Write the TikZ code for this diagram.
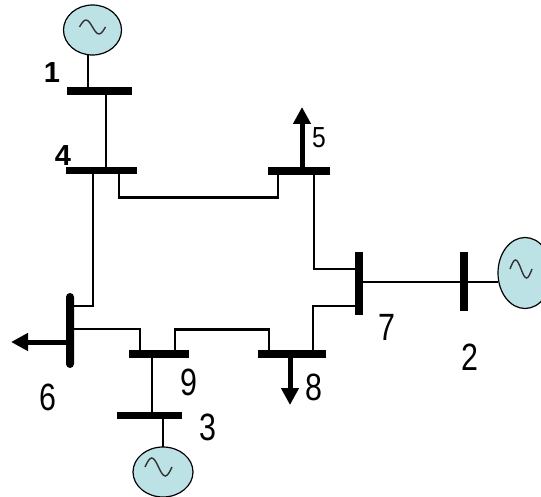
\documentclass[tikz,border=0pt]{standalone}
\usepackage{fontspec}
\setmainfont{Liberation Sans}
\usetikzlibrary{shapes.geometric,arrows.meta,calc}
\definecolor{genfill}{RGB}{188,226,230}
\begin{document}
\begin{tikzpicture}[x=1pt,y=-1pt,
  bus/.style={fill=black,inner sep=0pt,outer sep=0pt,minimum width=#1,minimum height=7.5pt},
  vbus/.style={fill=black,inner sep=0pt,outer sep=0pt,minimum width=8pt,minimum height=#1},
  gen/.style={ellipse,draw=black,line width=1.2pt,fill=genfill,inner sep=0pt,outer sep=0pt},
  conn/.style={line width=2.8pt},
  load/.style={line width=5pt,-{Triangle[length=17pt,width=17pt]}},
  wave/.style={line width=1.4pt,black!80},
  lbl/.style={font=\fontsize{38}{38}\selectfont,inner sep=0pt},
  slbl/.style={font=\fontsize{29}{29}\selectfont,inner sep=0pt},
  blbl/.style={font=\fontsize{29}{29}\selectfont\bfseries,inner sep=0pt}]
\useasboundingbox (0,0) rectangle (541,497);
\clip (0,0) rectangle (541,497);
\fill[white] (0,0) rectangle (541,497);

% buses
\node[bus=65pt] (b1) at (99.5,91) {};
\node[bus=71pt] (b4) at (101.5,170.5) {};
\node[bus=62pt] (b5) at (299,171) {};
\node[vbus=63pt] (b7) at (359,283.5) {};
\node[vbus=59pt] (b2) at (464,281.5) {};
\node[bus=68pt] (b8) at (292,354) {};
\node[bus=60pt] (b9) at (159,354) {};
\node[bus=65pt] (b3) at (149.5,415.5) {};
\node[fill=black,inner sep=0pt,outer sep=0pt,minimum width=8pt,minimum height=75pt,rounded corners=4pt] (b6) at (70,330.5) {};

% generators
\node[gen,minimum width=58pt,minimum height=50pt] (g1) at (92.5,30) {};
\node[gen,minimum width=54pt,minimum height=71pt] (g2) at (525,273) {};
\node[gen,minimum width=60pt,minimum height=50pt] (g3) at (163,472) {};

% load end points
\coordinate (l5) at (302,107);
\coordinate (l8) at (290,405);
\coordinate (l6) at (11,342);

% connectors
\draw[conn] ([xshift=-4.5pt]g1.south) -- ([xshift=-4.5pt]g1.south |- b1.north);
\draw[conn] ([xshift=6.5pt]b1.south) -- ([xshift=6.5pt]b1.south |- b4.north);
\draw[conn] ([xshift=17.5pt]b4.south) -- ++(0,23) -| ([xshift=-21pt]b5.south);
\draw[conn] ([xshift=-8.5pt]b4.south) |- ([yshift=24.5pt]b6.east);
\draw[conn] ([yshift=1.5pt]b6.east) -| ([xshift=-19pt]b9.north);
\draw[conn] ([xshift=16pt]b9.north) -- ++(0,-21) -| ([xshift=-23pt]b8.north);
\draw[conn] ([xshift=21pt]b8.north) |- ([yshift=-22.5pt]b7.west);
\draw[conn] ([xshift=15pt]b5.south) |- ([yshift=14.5pt]b7.west);
\draw[conn] ([yshift=1.5pt]b7.east) -- ([yshift=1.5pt]b7.east -| b2.west);
\draw[conn] ([yshift=-0.5pt]b2.east) -- ([yshift=-0.5pt]b2.east -| g2.west);
\draw[conn] ([xshift=-7pt]b9.south) -- ([xshift=-7pt]b9.south |- b3.north);
\draw[conn] ([xshift=13.5pt]b3.south) -- ([xshift=13.5pt]b3.south |- g3.north);

% loads
\draw[load] ([xshift=3pt]b5.north) -- (l5);
\draw[load] ([xshift=-2pt]b8.south) -- (l8);
\draw[load] ([yshift=-11.5pt]b6.west) -- (l6);

% generator symbols
\draw[wave] ($(g1)+(-13,-3)$) sin ++(6.5,-7) cos ++(6.5,7) sin ++(6.5,7) cos ++(6.5,-7);
\draw[wave] ($(g2)+(-15,-4)$) sin ++(5.5,-9) cos ++(5.5,9) sin ++(5.5,9) cos ++(5.5,-9);
\draw[wave] ($(g3)+(-18,-5)$) sin ++(6.75,-9) cos ++(6.75,9) sin ++(6.75,9) cos ++(6.75,-9);

% labels
\node[blbl] (t1) at (52,73) {1};
\node[blbl] (t4) at (63,156) {4};
\node[slbl] (t5) at (319,138) {\scalebox{0.85}[1]{5}};
\node[lbl] (t7) at (387,327) {\scalebox{0.8}[1]{7}};
\node[lbl] (t2) at (470,357) {\scalebox{0.8}[1]{2}};
\node[lbl] (t8) at (314,387) {\scalebox{0.8}[1]{8}};
\node[lbl] (t6) at (48,397) {\scalebox{0.8}[1]{6}};
\node[lbl] (t9) at (189,382) {\scalebox{0.8}[1]{9}};
\node[lbl] (t3) at (208,427) {\scalebox{0.8}[1]{3}};
\end{tikzpicture}
\end{document}
